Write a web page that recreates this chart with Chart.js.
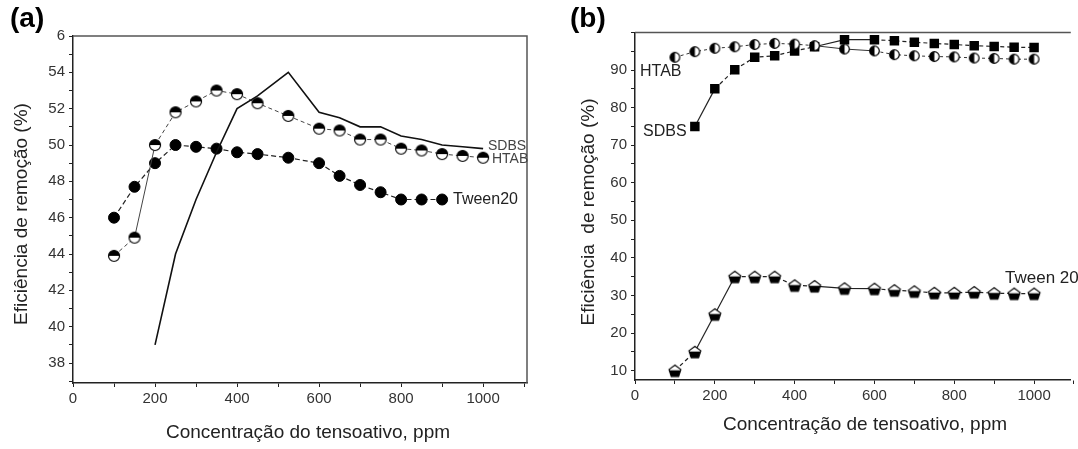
<!DOCTYPE html>
<html>
<head>
<meta charset="utf-8">
<script src="https://cdn.jsdelivr.net/npm/chart.js@4"></script>
<style>
html, body { margin: 0; padding: 0; background: #fff; overflow: hidden; }
#wrap { position: relative; width: 1078px; height: 449px; }
.box { position: absolute; top: 0; width: 539px; height: 449px; }
#boxA { left: 0; }
#boxB { left: 539px; }
.tag { position: absolute; top: 4px; font: bold 28px "Liberation Sans", Arial, sans-serif; line-height: 28px; color: #000; }
</style>
</head>
<body>
<div id="wrap">
  <div class="box" id="boxA"><canvas id="chartA"></canvas></div>
  <div class="box" id="boxB"><canvas id="chartB"></canvas></div>
  <div class="tag" style="left:10px">(a)</div>
  <div class="tag" style="left:570px">(b)</div>
</div>
<script>
// concentrations (ppm) shared by both panels
const conc = [100, 150, 200, 250, 300, 350, 400, 450, 525, 600, 650, 700, 750, 800, 850, 900, 950, 1000];

// panel (a)
const tween20A = [46.0, 47.7, 49.0, 50.0, 49.9, 49.8, 49.6, 49.5, 49.3, 49.0, 48.3, 47.8, 47.4, 47.0, 47.0, 47.0, null, null];
const htabA    = [43.9, 44.9, 50.0, 51.8, 52.4, 53.0, 52.8, 52.3, 51.6, 50.9, 50.8, 50.3, 50.3, 49.8, 49.7, 49.5, 49.4, 49.3];
const sdbsA    = [null, null, 39.0, 44.0, 47.0, 49.6, 52.0, 52.7, 54.0, 51.8, 51.5, 51.0, 51.0, 50.5, 50.3, 50.0, 49.9, 49.8];

// panel (b)
const htabB    = [93.4, 94.9, 95.8, 96.2, 96.8, 97.1, 96.9, 96.5, 95.6, 95.1, 94.1, 93.8, 93.6, 93.5, 93.2, 93.1, 92.9, 92.9];
const sdbsB    = [null, 75.0, 85.0, 90.1, 93.4, 93.8, 95.1, 96.2, 98.1, 98.1, 97.8, 97.4, 97.1, 96.8, 96.5, 96.3, 96.1, 96.0];
const tweenB   = [10.0, 15.0, 25.0, 35.0, 35.0, 35.0, 32.7, 32.5, 31.9, 31.8, 31.4, 31.1, 30.7, 30.7, 30.9, 30.6, 30.5, 30.5];

// ticks
const xTickVals   = [0, 100, 200, 300, 400, 500, 600, 700, 800, 900, 1000, 1100];
const xTickLabels = ['0', '', '200', '', '400', '', '600', '', '800', '', '1000', ''];
const yTickValsA   = [37, 38, 39, 40, 41, 42, 43, 44, 45, 46, 47, 48, 49, 50, 51, 52, 53, 54, 55, 56];
const yTickLabelsA = ['', '38', '', '40', '', '42', '', '44', '', '46', '', '48', '', '50', '', '52', '', '54', '', '6'];
const yTickValsB   = [10, 15, 20, 25, 30, 35, 40, 45, 50, 55, 60, 65, 70, 75, 80, 85, 90, 95, 100];
const yTickLabelsB = ['10', '', '20', '', '30', '', '40', '', '50', '', '60', '', '70', '', '80', '', '90', '', ''];

Chart.defaults.font.family = '"Liberation Sans", Arial, Helvetica, sans-serif';
Chart.defaults.color = '#333';

function pts(xs, ys) {
  return xs.map((x, i) => ({ x: x, y: ys[i] })).filter(p => p.y !== null);
}

// long segments look solid in the original, short ones dashed
function dashBy(limit, dash) {
  return ctx => {
    const len = Math.hypot(ctx.p1.x - ctx.p0.x, ctx.p1.y - ctx.p0.y);
    return len > limit ? [] : dash;
  };
}

// half black circle marker
function halfCircle(r, side) {
  const s = Math.ceil(2 * r + 3);
  const c = document.createElement('canvas');
  c.width = s; c.height = s;
  const g = c.getContext('2d');
  const m = s / 2;
  g.beginPath(); g.arc(m, m, r, 0, Math.PI * 2); g.fillStyle = '#fff'; g.fill();
  g.beginPath();
  if (side === 'top') g.arc(m, m, r, Math.PI, Math.PI * 2);
  else g.arc(m, m, r, Math.PI / 2, Math.PI * 1.5);
  g.closePath(); g.fillStyle = '#000'; g.fill();
  g.beginPath(); g.arc(m, m, r, 0, Math.PI * 2);
  g.lineWidth = 1.2; g.strokeStyle = '#000'; g.stroke();
  return c;
}

// pentagon, lower half black
function halfPentagon(r) {
  const s = Math.ceil(2 * r + 3);
  const c = document.createElement('canvas');
  c.width = s; c.height = s;
  const g = c.getContext('2d');
  const m = s / 2;
  g.beginPath();
  for (let i = 0; i < 5; i++) {
    const a = -Math.PI / 2 + i * 2 * Math.PI / 5;
    const px = m + r * Math.cos(a), py = m + r * Math.sin(a) + 0.8;
    if (i === 0) g.moveTo(px, py); else g.lineTo(px, py);
  }
  g.closePath();
  g.fillStyle = '#fff'; g.fill();
  g.save(); g.clip();
  g.fillStyle = '#000'; g.fillRect(0, m - 0.05 * r, s, s);
  g.restore();
  g.lineWidth = 1.2; g.strokeStyle = '#000'; g.stroke();
  return c;
}

// frame and texts drawn by hand
const decor = {
  id: 'decor',
  beforeDatasetsDraw(chart, args, opts) {
    const ctx = chart.ctx, a = chart.chartArea;
    ctx.save();
    ctx.strokeStyle = '#555';
    ctx.lineWidth = 1.5;
    ctx.beginPath();
    ctx.moveTo(a.left, a.top); ctx.lineTo(a.right, a.top);
    if (opts.rightEdge) { ctx.lineTo(a.right, a.bottom); }
    ctx.stroke();
    for (const t of opts.texts) {
      ctx.save();
      ctx.translate(t.x, t.y);
      if (t.rot) ctx.rotate(t.rot);
      ctx.font = t.font;
      ctx.fillStyle = t.color || '#222';
      ctx.textAlign = t.align || 'left';
      ctx.textBaseline = 'middle';
      ctx.fillText(t.text, 0, 0);
      ctx.restore();
    }
    ctx.restore();
  }
};

function axis(min, max, vals, labels, fit, pad) {
  return {
    type: 'linear',
    min: min,
    max: max,
    afterBuildTicks: s => { s.ticks = vals.map(v => ({ value: v })); },
    afterFit: fit,
    ticks: {
      autoSkip: false, maxRotation: 0, padding: pad, color: '#333',
      font: { size: 15 },
      callback: (v, i) => labels[i]
    },
    grid: { drawOnChartArea: false, drawTicks: true, tickLength: 4, color: '#222', lineWidth: 1 },
    border: { display: true, color: '#222', width: 1.5 }
  };
}

const F = '"Liberation Sans", Arial, sans-serif';

new Chart(document.getElementById('chartA'), {
  type: 'line',
  data: {
    datasets: [
      {
        label: 'SDBS', data: pts(conc, sdbsA),
        borderColor: '#111', borderWidth: 1.6, pointRadius: 0, tension: 0
      },
      {
        label: 'HTAB', data: pts(conc, htabA),
        borderColor: '#444', borderWidth: 1, borderDash: [4, 3],
        segment: { borderDash: dashBy(40, [4, 3]) },
        pointStyle: halfCircle(5.5, 'top'), pointRadius: 6
      },
      {
        label: 'Tween20', data: pts(conc, tween20A),
        borderColor: '#222', borderWidth: 1.2, borderDash: [5, 3],
        pointStyle: 'circle', pointRadius: 5.5,
        pointBackgroundColor: '#000', pointBorderColor: '#000', pointBorderWidth: 1
      }
    ]
  },
  options: {
    responsive: true,
    maintainAspectRatio: false,
    animation: false,
    events: [],
    layout: { padding: { top: 36, right: 12, left: 0, bottom: 0 } },
    scales: {
      x: axis(0, 1107, xTickVals, xTickLabels, s => { s.height = 66; }, 3),
      y: axis(36.9, 56, yTickValsA, yTickLabelsA, s => { s.width = 73; }, 4)
    },
    plugins: {
      legend: { display: false },
      tooltip: { enabled: false },
      decor: {
        rightEdge: true,
        texts: [
          { text: 'Concentração do tensoativo, ppm', x: 308, y: 433, font: '19px ' + F, align: 'center' },
          { text: 'Eficiência de remoção (%)', x: 22, y: 214, rot: -Math.PI / 2, font: '19px ' + F, align: 'center' },
          { text: 'SDBS', x: 488, y: 146, font: '14px ' + F, color: '#444' },
          { text: 'HTAB', x: 492, y: 159, font: '14px ' + F, color: '#444' },
          { text: 'Tween20', x: 453, y: 200, font: '16px ' + F, color: '#222' }
        ]
      }
    }
  },
  plugins: [decor]
});

new Chart(document.getElementById('chartB'), {
  type: 'line',
  data: {
    datasets: [
      {
        label: 'HTAB', data: pts(conc, htabB),
        borderColor: '#333', borderWidth: 1, borderDash: [3, 3],
        segment: { borderDash: dashBy(28, [3, 3]) },
        pointStyle: halfCircle(4.8, 'left'), pointRadius: 5
      },
      {
        label: 'SDBS', data: pts(conc, sdbsB),
        borderColor: '#222', borderWidth: 1.2, borderDash: [4, 3],
        segment: { borderDash: dashBy(28, [4, 3]) },
        pointStyle: 'rect', pointRadius: 6.7,
        pointBackgroundColor: '#000', pointBorderColor: '#000', pointBorderWidth: 0
      },
      {
        label: 'Tween 20', data: pts(conc, tweenB),
        borderColor: '#222', borderWidth: 1.2, borderDash: [4, 3],
        segment: { borderDash: dashBy(28, [4, 3]) },
        pointStyle: halfPentagon(6.2), pointRadius: 6
      }
    ]
  },
  options: {
    responsive: true,
    maintainAspectRatio: false,
    animation: false,
    events: [],
    layout: { padding: { top: 32.5, right: 0, left: 0, bottom: 0 } },
    scales: {
      x: axis(0, 1092, xTickVals, xTickLabels, s => { s.height = 69; }, 3),
      y: axis(7.5, 100, yTickValsB, yTickLabelsB, s => { s.width = 96; }, 4)
    },
    plugins: {
      legend: { display: false },
      tooltip: { enabled: false },
      decor: {
        rightEdge: false,
        texts: [
          { text: 'Concentração de tensoativo, ppm', x: 326, y: 425, font: '19px ' + F, align: 'center' },
          { text: 'Eficiência  de remoção (%)', x: 50, y: 212, rot: -Math.PI / 2, font: '19px ' + F, align: 'center' },
          { text: 'HTAB', x: 101, y: 72, font: '16px ' + F, color: '#222' },
          { text: 'SDBS', x: 104, y: 132, font: '16px ' + F, color: '#222' },
          { text: 'Tween 20', x: 466, y: 278, font: '17px ' + F, color: '#222' }
        ]
      }
    }
  },
  plugins: [decor]
});
</script>
</body>
</html>
